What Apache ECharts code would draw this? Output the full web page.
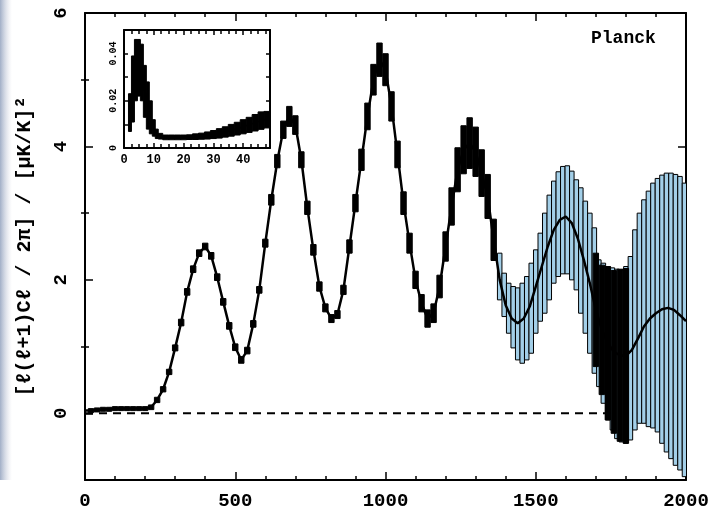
<!DOCTYPE html>
<html>
<head>
<meta charset="utf-8">
<script src="https://cdn.jsdelivr.net/npm/echarts@6/dist/echarts.min.js"></script>
<style>
  html, body { margin: 0; padding: 0; background: #fff; }
  #chart { width: 709px; height: 517px; }
</style>
</head>
<body>
<div id="chart"></div>
<script>
// Multipole grid of the model spectrum (step 20)
const ell = [
  0, 20, 40, 60, 80, 100, 120, 140, 160, 180,
  200, 220, 240, 260, 280, 300, 320, 340, 360, 380,
  400, 420, 440, 460, 480, 500, 520, 540, 560, 580,
  600, 620, 640, 660, 680, 700, 720, 740, 760, 780,
  800, 820, 840, 860, 880, 900, 920, 940, 960, 980,
  1000, 1020, 1040, 1060, 1080, 1100, 1120, 1140, 1160, 1180,
  1200, 1220, 1240, 1260, 1280, 1300, 1320, 1340, 1360, 1380,
  1400, 1420, 1440, 1460, 1480, 1500, 1520, 1540, 1560, 1580,
  1600, 1620, 1640, 1660, 1680, 1700, 1720, 1740, 1760, 1780,
  1800, 1820, 1840, 1860, 1880, 1900, 1920, 1940, 1960, 1980,
  2000
];
// Model power spectrum at each multipole
const power = [
  0.04, 0.04, 0.05, 0.06, 0.06, 0.07, 0.07, 0.07, 0.07, 0.07,
  0.07, 0.09, 0.2, 0.36, 0.62, 0.98, 1.36, 1.82, 2.16, 2.4,
  2.5, 2.36, 2.04, 1.67, 1.31, 0.99, 0.8, 0.94, 1.34, 1.85,
  2.55, 3.2, 3.78, 4.25, 4.45, 4.32, 3.8, 3.08, 2.45, 1.9,
  1.58, 1.42, 1.48, 1.85, 2.5, 3.15, 3.8, 4.45, 5.0, 5.3,
  5.15, 4.6, 3.88, 3.15, 2.55, 2.0, 1.65, 1.42, 1.5, 1.9,
  2.5, 3.1, 3.65, 3.95, 4.05, 3.92, 3.6, 3.25, 2.6, 2.0,
  1.62, 1.42, 1.35, 1.42, 1.6, 1.9, 2.2, 2.5, 2.75, 2.9,
  2.95, 2.85, 2.62, 2.3, 1.95, 1.55, 1.25, 1.05, 0.92, 0.87,
  0.86, 0.95, 1.12, 1.3, 1.42, 1.5, 1.56, 1.58, 1.55, 1.47,
  1.38
];
// Half-height of the dark error boxes (null: no dark box at that multipole)
const powerError = [
  null, 0.03, 0.03, 0.03, 0.03, 0.03, 0.03, 0.03, 0.03, 0.03,
  0.03, 0.035, 0.04, 0.04, 0.04, 0.045, 0.05, 0.05, 0.05, 0.05,
  0.05, 0.05, 0.05, 0.05, 0.05, 0.05, 0.05, 0.05, 0.05, 0.05,
  0.06, 0.08, 0.1, 0.13, 0.15, 0.14, 0.12, 0.1, 0.08, 0.07,
  0.06, 0.06, 0.06, 0.07, 0.1, 0.13, 0.16, 0.2, 0.23, 0.25,
  0.24, 0.22, 0.2, 0.17, 0.15, 0.13, 0.13, 0.13, 0.14, 0.17,
  0.22, 0.28, 0.33, 0.36, 0.38, 0.37, 0.35, 0.33, 0.31, null,
  null, null, null, null, null, null, null, null, null, null,
  null, null, null, null, null, 0.85, 0.97, 1.15, 1.22, 1.29,
  1.31, null, null, null, null, null, null, null, null, null,
  null
];

// High-multipole bins (step 15): lower and upper edges of each box
const binEll = [
  1380, 1395, 1410, 1425, 1440, 1455, 1470, 1485, 1500, 1515,
  1530, 1545, 1560, 1575, 1590, 1605, 1620, 1635, 1650, 1665,
  1680, 1695, 1710, 1725, 1740, 1755, 1770, 1785, 1800, 1815,
  1830, 1845, 1860, 1875, 1890, 1905, 1920, 1935, 1950, 1965,
  1980, 1995
];
const binUpper = [
  2.4, 2.1, 1.95, 1.9, 1.88, 1.95, 2.05, 2.25, 2.45, 2.7,
  3.0, 3.27, 3.48, 3.62, 3.7, 3.71, 3.63, 3.5, 3.38, 3.18,
  3.0, 2.78, 2.3, 2.25, 2.2, 2.18, 2.16, 2.15, 2.2, 2.35,
  2.75, 3.0, 3.2, 3.33, 3.45, 3.52, 3.57, 3.6, 3.6, 3.58,
  3.55, 3.45
];
const binLower = [
  1.7, 1.45, 1.2, 0.98, 0.8, 0.75, 0.8, 0.9, 1.2, 1.38,
  1.5, 1.7, 1.95, 2.05, 2.09, 2.09, 2.0, 1.85, 1.5, 1.2,
  0.9, 0.6, 0.4, 0.15, -0.1, -0.25, -0.38, -0.43, -0.45, -0.4,
  -0.25, -0.15, -0.15, -0.2, -0.22, -0.28, -0.45, -0.58, -0.68, -0.78,
  -0.85, -0.95
];

// Low-multipole inset
const insetEll = [
  2, 3, 4, 5, 6, 7, 8, 9, 10, 11,
  12, 14, 16, 18, 20, 22, 24, 26, 28, 30,
  32, 34, 36, 38, 40, 42, 44, 46, 48
];
const insetPower = [
  0.015, 0.025, 0.033, 0.034, 0.032, 0.024, 0.018, 0.013, 0.0085, 0.006,
  0.005, 0.0045, 0.0045, 0.0045, 0.0045, 0.0046, 0.0048, 0.005, 0.0053, 0.0057,
  0.0062, 0.0068, 0.0075, 0.0082, 0.009, 0.0098, 0.0107, 0.0116, 0.012
];
const insetError = [
  0.008, 0.014, 0.013, 0.012, 0.012, 0.011, 0.01, 0.007, 0.0035, 0.002,
  0.0012, 0.001, 0.001, 0.001, 0.001, 0.001, 0.0012, 0.0013, 0.0015, 0.0017,
  0.002, 0.0022, 0.0025, 0.0027, 0.003, 0.0032, 0.0035, 0.0037, 0.0035
];

// Tick values
const yMajorTicks = [0, 2, 4, 6];
const yMinorTicks = [1, 3, 5];
const insetYLabels = [0, 0.02, 0.04];

const MONO = "'Liberation Mono', 'DejaVu Sans Mono', monospace";
const DARK_HALF = 9;     // half width of dark boxes, in multipoles
const LIGHT_HALF = 7.5;  // half width of light boxes, in multipoles

// boxes: [left, right, low, high]
const darkBoxes = [];
ell.forEach((l, i) => {
  if (powerError[i] != null) {
    darkBoxes.push([l - DARK_HALF, l + DARK_HALF, power[i] - powerError[i], power[i] + powerError[i]]);
  }
});
const lightBoxes = binEll.map((l, i) => [l - LIGHT_HALF, l + LIGHT_HALF, binLower[i], binUpper[i]]);
const insetBoxes = insetEll.map((l, i) => {
  const prev = i > 0 ? insetEll[i - 1] : l - 1;
  const next = i < insetEll.length - 1 ? insetEll[i + 1] : l + 2;
  return [(prev + l) / 2, (l + next) / 2, insetPower[i] - insetError[i], insetPower[i] + insetError[i]];
});

function boxRenderer(fill) {
  return function (params, api) {
    const a = api.coord([api.value(0), api.value(3)]);
    const b = api.coord([api.value(1), api.value(2)]);
    return {
      type: 'rect',
      shape: { x: a[0], y: a[1], width: b[0] - a[0], height: b[1] - a[1] },
      style: { fill: fill, stroke: '#000', lineWidth: 1 }
    };
  };
}

const frameLine = { show: true, onZero: false, lineStyle: { color: '#000', width: 2 } };
const tickStyle = { color: '#000', width: 1.5 };
const plainNumber = v => String(v);

const chart = echarts.init(document.getElementById('chart'), null, { renderer: 'canvas' });
chart.setOption({
  animation: false,
  backgroundColor: '#fff',
  grid: [
    { left: 85, top: 13, width: 601, height: 467, outerBoundsMode: 'none', containLabel: false },
    { left: 124, top: 30, width: 146, height: 118, show: true, backgroundColor: '#fff', borderWidth: 0,
      outerBoundsMode: 'none', containLabel: false }
  ],
  graphic: [
    {
      type: 'rect', left: 0, top: 0, z: -1,
      shape: { width: 12, height: 480 },
      style: {
        fill: new echarts.graphic.LinearGradient(0, 0, 1, 0, [
          { offset: 0, color: 'rgba(130,148,180,0.75)' },
          { offset: 1, color: 'rgba(200,205,220,0)' }
        ])
      }
    },
    {
      type: 'text', left: 591, top: 29, z: 10,
      style: { text: 'Planck', font: 'bold 18px ' + MONO, fill: '#000' }
    }
  ],
  xAxis: [
    {
      gridIndex: 0, type: 'value', position: 'bottom', min: 0, max: 2000, interval: 500,
      axisLine: frameLine,
      axisTick: { show: true, inside: true, length: 8, lineStyle: tickStyle },
      minorTick: { show: true, splitNumber: 5, length: 4, lineStyle: tickStyle },
      splitLine: { show: false },
      axisLabel: { color: '#000', fontFamily: MONO, fontWeight: 'bold', fontSize: 19, margin: 12,
        formatter: plainNumber }
    },
    {
      gridIndex: 0, type: 'value', position: 'top', min: 0, max: 2000, interval: 500,
      axisLine: frameLine,
      axisTick: { show: true, inside: true, length: 8, lineStyle: tickStyle },
      minorTick: { show: true, splitNumber: 5, length: 4, lineStyle: tickStyle },
      splitLine: { show: false },
      axisLabel: { show: false }
    },
    {
      gridIndex: 1, type: 'value', position: 'bottom', min: 0, max: 49, interval: 10,
      axisLine: frameLine,
      axisTick: { show: true, inside: true, length: 5, lineStyle: tickStyle },
      minorTick: { show: true, splitNumber: 4, length: 4, lineStyle: tickStyle },
      splitLine: { show: false },
      axisLabel: {
        color: '#000', fontFamily: MONO, fontWeight: 'bold', fontSize: 12, margin: 6,
        formatter: v => (v % 10 === 0 ? String(v) : '')
      }
    },
    {
      gridIndex: 1, type: 'value', position: 'top', min: 0, max: 49, interval: 10,
      axisLine: frameLine,
      axisTick: { show: true, inside: true, length: 5, lineStyle: tickStyle },
      minorTick: { show: true, splitNumber: 4, length: 4, lineStyle: tickStyle },
      splitLine: { show: false },
      axisLabel: { show: false }
    }
  ],
  yAxis: [
    {
      gridIndex: 0, type: 'value', position: 'left', min: -1, max: 6,
      axisLine: frameLine,
      axisTick: { show: true, inside: true, length: 8, lineStyle: tickStyle, customValues: yMajorTicks },
      splitLine: { show: false },
      axisLabel: {
        customValues: yMajorTicks, rotate: 90, margin: 14, formatter: plainNumber,
        color: '#000', fontFamily: MONO, fontWeight: 'bold', fontSize: 19
      },
      name: '[ℓ(ℓ+1)Cℓ / 2π] / [μK/K]²',
      nameLocation: 'middle', nameRotate: 90, nameGap: 50,
      nameTextStyle: { color: '#000', fontFamily: MONO, fontWeight: 'bold', fontSize: 20 }
    },
    {
      gridIndex: 0, type: 'value', position: 'left', min: -1, max: 6,
      axisLine: { show: false },
      axisTick: { show: true, inside: true, length: 4, lineStyle: tickStyle, customValues: yMinorTicks },
      splitLine: { show: false },
      axisLabel: { show: false }
    },
    {
      gridIndex: 0, type: 'value', position: 'right', min: -1, max: 6,
      axisLine: frameLine,
      axisTick: { show: true, inside: true, length: 8, lineStyle: tickStyle, customValues: yMajorTicks },
      splitLine: { show: false },
      axisLabel: { show: false }
    },
    {
      gridIndex: 0, type: 'value', position: 'right', min: -1, max: 6,
      axisLine: { show: false },
      axisTick: { show: true, inside: true, length: 4, lineStyle: tickStyle, customValues: yMinorTicks },
      splitLine: { show: false },
      axisLabel: { show: false }
    },
    {
      gridIndex: 1, type: 'value', position: 'left', min: 0, max: 0.05, interval: 0.01,
      axisLine: frameLine,
      axisTick: { show: true, inside: true, length: 4, lineStyle: tickStyle },
      splitLine: { show: false },
      axisLabel: {
        customValues: insetYLabels, rotate: 90, margin: 6, formatter: plainNumber,
        color: '#000', fontFamily: MONO, fontWeight: 'bold', fontSize: 10
      }
    },
    {
      gridIndex: 1, type: 'value', position: 'right', min: 0, max: 0.05, interval: 0.01,
      axisLine: frameLine,
      axisTick: { show: true, inside: true, length: 4, lineStyle: tickStyle },
      splitLine: { show: false },
      axisLabel: { show: false }
    }
  ],
  series: [
    {
      name: 'zero', type: 'line', xAxisIndex: 0, yAxisIndex: 0, z: 1,
      data: [[0, 0], [2000, 0]], showSymbol: false, silent: true,
      lineStyle: { color: '#000', width: 2, type: [8, 6] }
    },
    {
      name: 'bins', type: 'custom', xAxisIndex: 0, yAxisIndex: 0, z: 2, clip: true,
      renderItem: boxRenderer('#a3cfe8'), data: lightBoxes, silent: true
    },
    {
      name: 'binsDark', type: 'custom', xAxisIndex: 0, yAxisIndex: 0, z: 3, clip: true,
      renderItem: boxRenderer('#000'), data: darkBoxes, silent: true
    },
    {
      name: 'model', type: 'line', xAxisIndex: 0, yAxisIndex: 0, z: 4, clip: true,
      data: ell.map((l, i) => [l, power[i]]), showSymbol: false, silent: true,
      lineStyle: { color: '#000', width: 2.5 }
    },
    {
      name: 'insetBins', type: 'custom', xAxisIndex: 2, yAxisIndex: 4, z: 5, clip: true,
      renderItem: boxRenderer('#000'), data: insetBoxes, silent: true
    },
    {
      name: 'insetModel', type: 'line', xAxisIndex: 2, yAxisIndex: 4, z: 6, clip: true,
      data: insetEll.map((l, i) => [l, insetPower[i]]), showSymbol: false, silent: true,
      lineStyle: { color: '#000', width: 1.5 }
    }
  ]
});
</script>
</body>
</html>
